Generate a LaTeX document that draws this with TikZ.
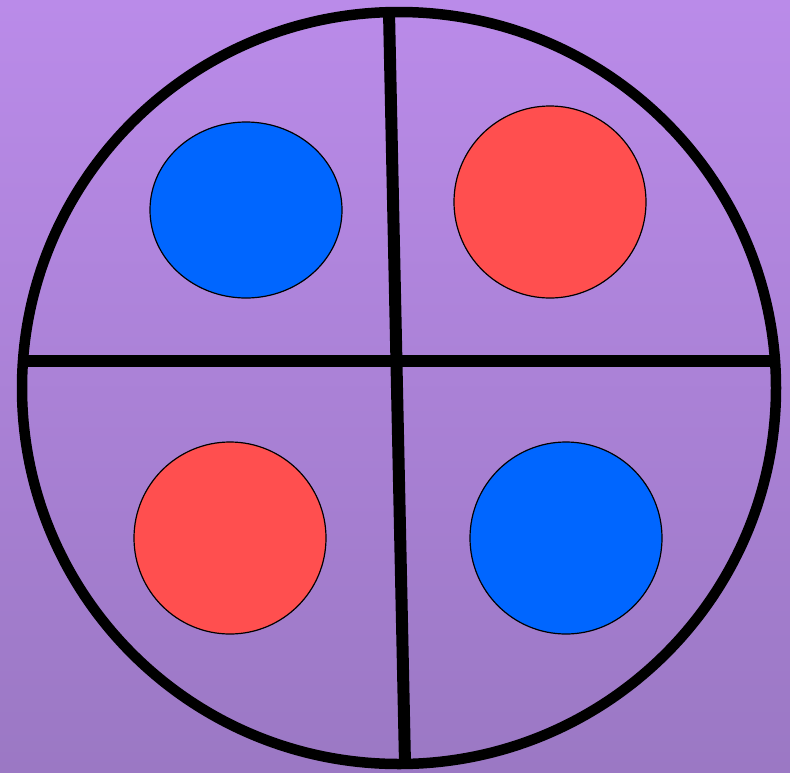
\documentclass[tikz,border=0pt]{standalone}
\usepackage{xcolor}
\usepackage{tikz}
\definecolor{bgtop}{RGB}{186,139,233}
\definecolor{bgbottom}{RGB}{155,120,196}
\definecolor{dotblue}{HTML}{0066FF}
\definecolor{dotred}{HTML}{FF4F4F}

\begin{document}
\begin{tikzpicture}[
  x=1pt, y=-1pt,
  rim/.style={draw=black, line width=10.5pt},
  cut/.style={draw=black, line width=12pt},
  dot/.style={draw=black, line width=1.2pt}
]
\useasboundingbox (0,0) rectangle (790,772);
\shade[top color=bgtop, bottom color=bgbottom] (0,0) rectangle (790,772);
% four dots
\filldraw[dot, fill=dotblue] (246,210) ellipse [x radius=96, y radius=88];
\filldraw[dot, fill=dotred] (550,202) circle [radius=96];
\filldraw[dot, fill=dotred] (230,538) circle [radius=96];
\filldraw[dot, fill=dotblue] (566,538) circle [radius=96];
% outer circle and cuts
\coordinate (top) at (389,12);
\coordinate (bottom) at (405,764);
\coordinate (left) at (22,361);
\coordinate (right) at (776,361);
\draw[cut] (top) -- (bottom);
\draw[cut] (left) -- (right);
\draw[rim] (399,388) ellipse [x radius=377, y radius=376];
\end{tikzpicture}
\end{document}
